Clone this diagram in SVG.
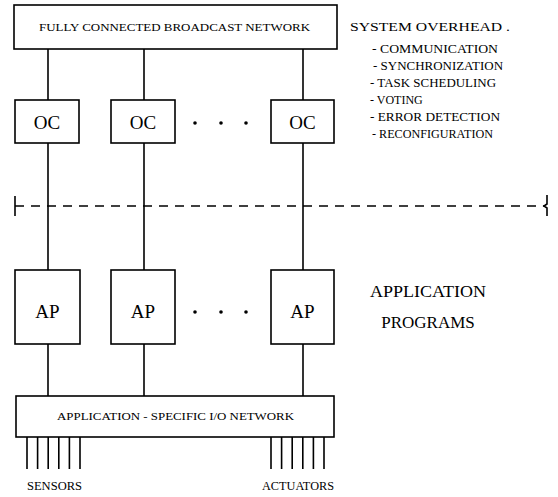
<svg xmlns="http://www.w3.org/2000/svg" width="558" height="497" viewBox="0 0 558 497">
  <style>
    .box { fill: #fff; stroke: #000; stroke-width: 1.6; }
    .wire { stroke: #000; stroke-width: 1.6; fill: none; }
    .dash { stroke: #000; stroke-width: 1.6; fill: none; stroke-dasharray: 9 7; }
    text { font-family: "Liberation Serif", "Times New Roman", serif; fill: #000; }
    .big { font-size: 19px; text-anchor: middle; }
    .small { font-size: 11px; }
    .item { font-size: 12px; }
    .label { font-size: 17px; text-anchor: middle; }
    .dot { fill: #000; }
  </style>
  <rect width="558" height="497" fill="#fff"/>

  <!-- connectors -->
  <g id="connectors">
    <line class="wire" x1="48" y1="49" x2="48" y2="100"/>
    <line class="wire" x1="144" y1="49" x2="144" y2="100"/>
    <line class="wire" x1="303" y1="49" x2="303" y2="100"/>
    <line class="wire" x1="48" y1="143" x2="48" y2="270"/>
    <line class="wire" x1="144" y1="143" x2="144" y2="270"/>
    <line class="wire" x1="303" y1="143" x2="303" y2="270"/>
    <line class="wire" x1="48" y1="344" x2="48" y2="396"/>
    <line class="wire" x1="144" y1="344" x2="144" y2="396"/>
    <line class="wire" x1="303" y1="344" x2="303" y2="396"/>
    <!-- sensor leads -->
    <path class="wire" d="M27 437V469M37.6 437V469M48.2 437V469M58.8 437V469M69.4 437V469M80 437V469"/>
    <!-- actuator leads -->
    <path class="wire" d="M271 437V469M281.6 437V469M292.2 437V469M302.8 437V469M313.4 437V469M324 437V469"/>
  </g>

  <!-- boundary between system overhead and application layer -->
  <g id="boundary">
    <line class="dash" x1="15" y1="206" x2="544" y2="206"/>
    <line class="wire" x1="15" y1="196" x2="15" y2="216"/>
    <path class="wire" d="M547 195V204L544 206L547 208V216"/>
  </g>

  <g id="broadcast-network">
    <rect class="box" x="14" y="5" width="323" height="44"/>
    <text class="small" x="39" y="31" textLength="271" lengthAdjust="spacingAndGlyphs">FULLY CONNECTED BROADCAST NETWORK</text>
  </g>

  <g id="oc1">
    <rect class="box" x="15" y="100" width="64" height="43"/>
    <text class="big" x="47" y="129">OC</text>
  </g>
  <g id="oc2">
    <rect class="box" x="111" y="100" width="64" height="43"/>
    <text class="big" x="143" y="129">OC</text>
  </g>
  <g id="oc3">
    <rect class="box" x="271" y="100" width="63" height="43"/>
    <text class="big" x="302.5" y="129">OC</text>
  </g>
  <g id="oc-ellipsis">
    <circle class="dot" cx="195" cy="123" r="1.8"/>
    <circle class="dot" cx="221" cy="123" r="1.8"/>
    <circle class="dot" cx="246" cy="123" r="1.8"/>
  </g>

  <g id="system-overhead">
    <text x="350" y="31" font-size="13.5" textLength="160" lengthAdjust="spacingAndGlyphs">SYSTEM OVERHEAD .</text>
    <text class="item" x="372" y="53" textLength="126" lengthAdjust="spacingAndGlyphs">- COMMUNICATION</text>
    <text class="item" x="373" y="70" textLength="130" lengthAdjust="spacingAndGlyphs">- SYNCHRONIZATION</text>
    <text class="item" x="370" y="87" textLength="126" lengthAdjust="spacingAndGlyphs">- TASK SCHEDULING</text>
    <text class="item" x="370" y="104">- VOTING</text>
    <text class="item" x="370" y="121" textLength="130" lengthAdjust="spacingAndGlyphs">- ERROR DETECTION</text>
    <text class="item" x="372" y="138" textLength="121" lengthAdjust="spacingAndGlyphs">- RECONFIGURATION</text>
  </g>

  <g id="ap1">
    <rect class="box" x="15" y="270" width="65" height="74"/>
    <text class="big" x="47.5" y="318">AP</text>
  </g>
  <g id="ap2">
    <rect class="box" x="111" y="270" width="64" height="74"/>
    <text class="big" x="143" y="318">AP</text>
  </g>
  <g id="ap3">
    <rect class="box" x="271" y="270" width="63" height="74"/>
    <text class="big" x="302.5" y="318">AP</text>
  </g>
  <g id="ap-ellipsis">
    <circle class="dot" cx="195" cy="312" r="1.8"/>
    <circle class="dot" cx="221" cy="312" r="1.8"/>
    <circle class="dot" cx="246" cy="312" r="1.8"/>
  </g>

  <g id="application-programs">
    <text class="label" x="428" y="297" textLength="116" lengthAdjust="spacingAndGlyphs">APPLICATION</text>
    <text class="label" x="428" y="328">PROGRAMS</text>
  </g>

  <g id="io-network">
    <rect class="box" x="16" y="396" width="318" height="41"/>
    <text class="small" x="57" y="420" textLength="237" lengthAdjust="spacingAndGlyphs">APPLICATION - SPECIFIC I/O NETWORK</text>
  </g>

  <g id="sensors">
    <text x="27" y="490" font-size="12" textLength="55" lengthAdjust="spacingAndGlyphs">SENSORS</text>
  </g>
  <g id="actuators">
    <text x="262" y="490" font-size="12" textLength="72" lengthAdjust="spacingAndGlyphs">ACTUATORS</text>
  </g>
</svg>
